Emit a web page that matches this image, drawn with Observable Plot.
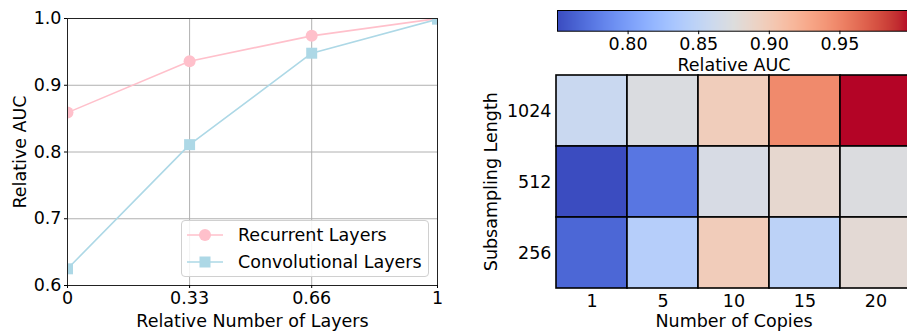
<!DOCTYPE html>
<html>
<head>
<meta charset="utf-8">
<script src="https://cdn.jsdelivr.net/npm/d3@7"></script>
<script src="https://cdn.jsdelivr.net/npm/@observablehq/plot@0.6"></script>
<style>
  html, body { margin: 0; padding: 0; overflow: hidden; background: white; }
  #page { position: relative; width: 907px; height: 331px; overflow: hidden; font-family: "DejaVu Sans", sans-serif; }
  .pane { position: absolute; }
  #legend { position: absolute; left: 181px; top: 220px; width: 246px; height: 55px;
    border: 1px solid #d0d0d0; border-radius: 4px; background: rgba(255,255,255,0.85);
    font-size: 17.5px; color: black; }
  #legend .row { position: absolute; left: 0; height: 26px; display: flex; align-items: center; }
  #legend svg { display: block; }
  #legend span { margin-left: 14px; white-space: nowrap; }
</style>
</head>
<body>
<div id="page">
  <div class="pane" id="left" style="left:0;top:0;width:450px;height:331px"></div>
  <div class="pane" id="cbar" style="left:480px;top:0;width:432px;height:75px"></div>
  <div class="pane" id="heat" style="left:480px;top:70px;width:432px;height:261px"></div>
  <div id="legend"></div>
</div>
<script>
// ---- Line chart data ----
const layerFrac = [0, 0.33, 0.66, 1];
const recurrentAUC = [0.859, 0.936, 0.974, 1.0];
const convolutionalAUC = [0.625, 0.811, 0.948, 0.999];
const yTicks = [0.6, 0.7, 0.8, 0.9, 1.0];

// ---- Heatmap data ----
const copies = ["1", "5", "10", "15", "20"];
const lengths = ["1024", "512", "256"];
const auc1024 = [0.857, 0.872, 0.897, 0.947, 1.0];
const auc512 = [0.750, 0.774, 0.869, 0.884, 0.873];
const auc256 = [0.765, 0.842, 0.898, 0.847, 0.881];
const colorTicks = [0.80, 0.85, 0.90, 0.95];

// coolwarm colormap control colours
const coolwarm = ["#3b4cc0","#445acc","#4d68d7","#5775e1","#6282ea","#6c8ef1","#779af7","#82a5fb",
  "#8db0fe","#98b9ff","#a3c2ff","#aec9fd","#b8d0f9","#c2d5f4","#ccd9ee","#d5dbe6","#dddddd",
  "#e5d8d1","#ecd3c5","#f1ccb9","#f5c4ad","#f7bba0","#f7b194","#f7a687","#f49a7b","#f18d6f",
  "#ec7f63","#e57058","#de604d","#d55042","#cb3e38","#c0282f","#b40426"];
const coolwarmInterp = d3.piecewise(d3.interpolateRgb, coolwarm);

const font = {fontFamily: "DejaVu Sans", fontSize: "17.5px", color: "black", background: "none", overflow: "visible"};

// ---- Left line chart ----
const recData = layerFrac.map((x, i) => ({x, y: recurrentAUC[i]}));
const convData = layerFrac.map((x, i) => ({x, y: convolutionalAUC[i]}));
const pink = "#ffc0cb", lightblue = "#add8e6";

const left = Plot.plot({
  width: 450, height: 331,
  marginLeft: 67, marginRight: 13, marginTop: 18, marginBottom: 46,
  style: font,
  x: {domain: [0, 1]},
  y: {domain: [0.6, 1.0]},
  marks: [
    Plot.gridX(layerFrac.slice(1, -1), {stroke: "#b0b0b0", strokeOpacity: 1, strokeWidth: 1}),
    Plot.gridY(yTicks.slice(1, -1), {stroke: "#b0b0b0", strokeOpacity: 1, strokeWidth: 1}),
    Plot.line(recData, {x: "x", y: "y", stroke: pink, strokeWidth: 1.6, clip: true}),
    Plot.dot(recData, {x: "x", y: "y", fill: pink, r: 6, symbol: "circle", clip: true}),
    Plot.line(convData, {x: "x", y: "y", stroke: lightblue, strokeWidth: 1.6, clip: true}),
    Plot.dot(convData, {x: "x", y: "y", fill: lightblue, r: 6.2, symbol: "square", clip: true}),
    Plot.frame({stroke: "#222", strokeWidth: 1}),
    Plot.axisX({ticks: layerFrac, tickFormat: d => String(d), tickSize: 3, tickPadding: 3,
      label: "Relative Number of Layers", labelAnchor: "center", labelArrow: "none", labelOffset: 41}),
    Plot.axisY({ticks: yTicks, tickFormat: ".1f", tickSize: 3, tickPadding: 3,
      label: "Relative AUC", labelAnchor: "center", labelArrow: "none", labelOffset: 54})
  ]
});
document.getElementById("left").appendChild(left);

// ---- Legend ----
const legendItems = [
  {name: "Recurrent Layers", color: pink, symbol: "circle"},
  {name: "Convolutional Layers", color: lightblue, symbol: "square"}
];
const legend = document.getElementById("legend");
legendItems.forEach((item, i) => {
  const row = document.createElement("div");
  row.className = "row";
  row.style.top = (i === 0 ? 1 : 28) + "px";
  const marker = item.symbol === "circle"
    ? `<circle cx="23" cy="13" r="6" fill="${item.color}"/>`
    : `<rect x="17.5" y="7.5" width="11" height="11" fill="${item.color}"/>`;
  row.innerHTML = `<svg width="42" height="26"><line x1="5" x2="41" y1="13" y2="13" stroke="${item.color}" stroke-width="1.6"/>${marker}</svg><span>${item.name}</span>`;
  legend.appendChild(row);
});

// ---- Colour bar ----
const cbar = Plot.plot({
  width: 432, height: 75,
  marginLeft: 77, marginRight: 2, marginTop: 10, marginBottom: 44.3,
  style: font,
  x: {domain: [0.75, 1.0]},
  y: {domain: [0, 1], axis: null},
  color: {type: "linear", domain: [0.75, 1.0], interpolate: coolwarmInterp},
  marks: [
    Plot.raster({x1: 0.75, x2: 1.0, y1: 0, y2: 1, fill: (x, y) => x, pixelSize: 1, imageRendering: "auto"}),
    Plot.frame({stroke: "black", strokeWidth: 1}),
    Plot.axisX({ticks: colorTicks, tickFormat: ".2f", tickSize: 3.5, tickPadding: 2.5,
      label: "Relative AUC", labelAnchor: "center", labelArrow: "none", labelOffset: 40})
  ]
});
document.getElementById("cbar").appendChild(cbar);

// ---- Heatmap ----
const rows = {"1024": auc1024, "512": auc512, "256": auc256};
const cells = lengths.flatMap(len => copies.map((c, i) => ({copies: c, length: len, auc: rows[len][i]})));

const heat = Plot.plot({
  width: 432, height: 261,
  marginLeft: 75, marginRight: 0, marginTop: 4, marginBottom: 42.7,
  style: font,
  x: {domain: copies, padding: 0},
  y: {domain: lengths, padding: 0},
  color: {type: "linear", domain: [0.75, 1.0], interpolate: coolwarmInterp},
  marks: [
    Plot.cell(cells, {x: "copies", y: "length", fill: "auc", stroke: "black", strokeWidth: 1.6}),
    Plot.axisX({tickSize: 0, tickPadding: 6, label: "Number of Copies", labelAnchor: "center", labelArrow: "none", labelOffset: 38}),
    Plot.axisY({tickSize: 0, tickPadding: 4, label: "Subsampling Length", labelAnchor: "center", labelArrow: "none", labelOffset: 71})
  ]
});
document.getElementById("heat").appendChild(heat);
</script>
</body>
</html>
